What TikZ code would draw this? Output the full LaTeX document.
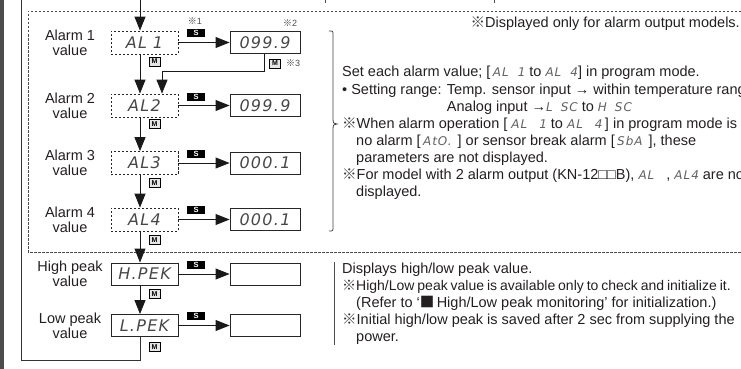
\documentclass[tikz,border=0pt]{standalone}
\usepackage{fontspec}
\setmainfont{Liberation Sans}
\newfontfamily\cjkfont{Noto Sans CJK JP}
\newfontfamily\segfont{DejaVu Sans}[LetterSpace=8]
\usetikzlibrary{arrows.meta}
\definecolor{ink}{HTML}{231F20}
\newcommand{\refmark}{{\cjkfont\color{black!80}※}}
% segment-display lettering in the boxes and inside the notes
\newcommand{\segdisp}[1]{{\segfont\itshape\fontsize{16}{16}\selectfont\color{black!72}#1}}
\newcommand{\segsm}[1]{{\segfont\itshape\fontsize{12}{12}\selectfont\color{black!62}#1}}
\tikzset{
  lbl/.style={font=\fontsize{14.5}{15}\selectfont, align=center, text=ink, inner sep=0pt},
  albox/.style={draw=black!85, dash pattern=on 2.4pt off 1.6pt, line width=0.8pt,
    minimum width=67pt, minimum height=23pt, inner sep=0pt},
  pkbox/.style={draw=black!85, line width=0.9pt, minimum width=67pt, minimum height=22pt, inner sep=0pt},
  valbox/.style={draw=black!85, line width=0.9pt, minimum width=70pt, minimum height=22pt, inner sep=0pt},
  skey/.style={fill=black, text=white, font=\fontsize{7.5}{7.5}\selectfont\bfseries,
    minimum width=18pt, minimum height=8pt, inner sep=0pt},
  mkey/.style={draw=black, fill=black!10, line width=0.6pt, font=\fontsize{7}{7}\selectfont\bfseries,
    minimum width=11pt, minimum height=9pt, inner sep=0pt},
  flow/.style={draw=black!90, line width=0.9pt, -{Triangle[length=14pt,width=11pt]}},
  wire/.style={draw=black!80, line width=0.9pt},
  frame/.style={draw=black!70, line width=0.8pt, dash pattern=on 2.5pt off 1.5pt},
  note/.style={font=\fontsize{14.5}{17}\selectfont, text=ink, anchor=base west, inner sep=0pt},
  tiny/.style={font=\fontsize{9}{9}\selectfont, text=black!70, inner sep=0pt},
}
\begin{document}
\begin{tikzpicture}[x=1pt,y=-1pt]
\useasboundingbox (0,0) rectangle (741,369);
\clip (0,0) rectangle (741,369);

% left margin bar
\fill[black!70] (0,0) rectangle (4,369);

% dashed frame around the alarm parameters
\draw[frame] (745,11) -- (28,11) -- (28,252) -- (745,252);

% stubs of the brackets of the line above
\draw[black!70, line width=0.8pt] (325,0) -- (325,3);
\draw[black!70, line width=0.8pt] (494,0) -- (494,3);

% row labels
\node[lbl] (lab1) at (70,42.5) {Alarm 1\\value};
\node[lbl] (lab2) at (70,105.5) {Alarm 2\\value};
\node[lbl] (lab3) at (70,163) {Alarm 3\\value};
\node[lbl] (lab4) at (70,219.5) {Alarm 4\\value};
\node[lbl] (lab5) at (70,274) {High peak\\value};
\node[lbl] (lab6) at (70,325.5) {Low peak\\value};

% parameter boxes
\node[albox] (al1) at (144.5,42.5) {\segdisp{AL\hspace{6pt}1}};
\node[albox] (al2) at (144.5,105.5) {\segdisp{AL2}};
\node[albox] (al3) at (144.5,163) {\segdisp{AL3}};
\node[albox] (al4) at (144.5,219.5) {\segdisp{AL4}};
\node[pkbox] (hpk) at (144.5,274) {\segdisp{H.PEK}};
\node[pkbox] (lpk) at (144.5,325.5) {\segdisp{L.PEK}};

% value boxes
\node[valbox] (v1) at (265,42.5) {\segdisp{099.9}};
\node[valbox] (v2) at (265,105.5) {\segdisp{099.9}};
\node[valbox] (v3) at (265,163) {\segdisp{000.1}};
\node[valbox] (v4) at (265,219.5) {\segdisp{000.1}};
\node[valbox] (v5) at (265,274) {};
\node[valbox] (v6) at (265,325.5) {};

% S keys
\node[skey] (s1) at (196,33) {S};
\node[skey] (s2) at (196,96.5) {S};
\node[skey] (s3) at (196,153.5) {S};
\node[skey] (s4) at (196,210) {S};
\node[skey] (s5) at (196,264.5) {S};
\node[skey] (s6) at (196,316) {S};

% M keys
\node[mkey] (m1) at (154.5,61.5) {M};
\node[mkey] (m2) at (154.5,124) {M};
\node[mkey] (m3) at (154.5,183) {M};
\node[mkey] (m4) at (154.5,240) {M};
\node[mkey] (m5) at (154.5,294) {M};
\node[mkey] (m6) at (154.5,347) {M};
\node[mkey] (m7) at (275,63.5) {M};

% footnote marks
\node[tiny] (n1) at (195,21) {\refmark 1};
\node[tiny] (n2) at (290,23) {\refmark 2};
\node[tiny] (n3) at (293,63.5) {\refmark 3};

% S arrows
\foreach \a/\b in {al1/v1,al2/v2,al3/v3,al4/v4,hpk/v5,lpk/v6}
  \draw[flow] (\a) -- (\b);

% main M chain
\coordinate (cx) at (140,0);
\coordinate (entry) at (140,0);
\draw[flow] (entry) -- (al1.north -| cx);
\draw[flow] (al1.south -| cx) -- (al2.north -| cx);
\draw[flow] (al2.south -| cx) -- (al3.north -| cx);
\draw[flow] (al3.south -| cx) -- (al4.north -| cx);
\draw[flow] (al4.south -| cx) -- (hpk.north -| cx);
\draw[flow] (hpk.south -| cx) -- (lpk.north -| cx);

% return path back to the top
\coordinate (rb) at (140,360);
\coordinate (rl) at (21,360);
\coordinate (rt) at (21,0);
\draw[wire] (lpk.south -| cx) -- (rb) -- (rl) -- (rt);

% M from the alarm 1 value back to alarm 2
\coordinate (fbx) at (264,71);
\coordinate (fbin) at (162,71);
\draw[flow] (v1.south -| fbx) -- (fbx) -- (fbin) -- (al2.north -| fbin);

% braces for the notes
\draw[black!75, line width=0.8pt] (329,31) .. controls (333,31) .. (333,35) -- (333,120)
  .. controls (333,123) .. (337,124) .. controls (333,125) .. (333,128) -- (333,227)
  .. controls (333,231) .. (329,231);
\draw[black!70, line width=0.8pt] (334,262) -- (334,345);

% notes for the alarm values
\node[tiny, font=\fontsize{14.5}{17}\selectfont, text=ink, anchor=base east] (d0) at (740,27.5)
  {\refmark Displayed only for alarm output models.};
\node[note] (t1) at (342,77) {Set each alarm value; [\,\segsm{AL\hspace{9pt}1} to \segsm{AL\hspace{9pt}4}] in program mode.};
\node[note] (t2) at (342,94) {• Setting range: Temp. sensor input → within temperature range};
\node[note] (t3) at (342,111) {\phantom{• Setting range: }Analog input →\segsm{L\hspace{8pt}SC} to \segsm{H\hspace{8pt}SC}};
\node[note] (t4) at (342,128) {\refmark When alarm operation [~\segsm{AL\hspace{12pt}1} to \segsm{AL\hspace{12pt}4}\,] in program mode is};
\node[note] (t5) at (356,145) {no alarm [\,\segsm{AtO.}\hspace{6pt}] or sensor break alarm [\,\segsm{SbA}\hspace{6pt}], these};
\node[note] (t6) at (356,162) {parameters are not displayed.};
\node[note] (t7) at (342,179) {\refmark For model with 2 alarm output (KN-12□□B), \segsm{AL}\hspace{12pt}, \segsm{AL4} are not};
\node[note] (t8) at (356,196) {displayed.};

% notes for the peak values
\node[note] (p1) at (342,273) {Displays high/low peak value.};
\node[note, font=\fontsize{14}{17}\selectfont] (p2) at (342,290)
  {\spaceskip=2.9pt\relax\refmark High/Low peak value is available only to check and initialize it.};
\node[note] (p3) at (356,307) {(Refer to ‘{\cjkfont ■}\,High/Low peak monitoring’ for initialization.)};
\node[note] (p4) at (342,324) {\refmark Initial high/low peak is saved after 2 sec from supplying the};
\node[note] (p5) at (356,341) {power.};
\end{tikzpicture}
\end{document}
